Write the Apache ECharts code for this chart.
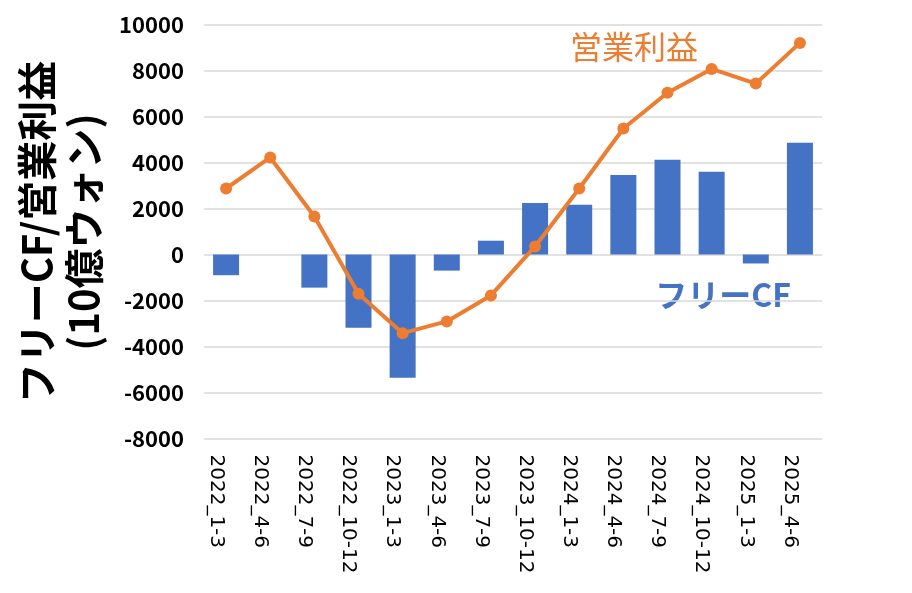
<!DOCTYPE html>
<html><head><meta charset="utf-8">
<script src="https://cdn.jsdelivr.net/npm/echarts@6/dist/echarts.min.js"></script>
<style>html,body{margin:0;padding:0;background:#fff}#c{width:912px;height:593px}</style>
</head><body><div id="c"></div>
<script>
const categories = ['2022_1-3','2022_4-6','2022_7-9','2022_10-12','2023_1-3','2023_4-6','2023_7-9','2023_10-12','2024_1-3','2024_4-6','2024_7-9','2024_10-12','2025_1-3','2025_4-6'];
const freeCF = [-900, null, -1440, -3180, -5360, -700, 600, 2240, 2160, 3460, 4120, 3600, -390, 4860];
const operatingProfit = [2870, 4220, 1650, -1710, -3420, -2910, -1780, 350, 2870, 5480, 7030, 8070, 7430, 9200];
const yTitle = 'フリーCF/営業利益\n(10億ウォン)';
const opLabel = '営業利益';
const fcfLabel = 'フリーCF';

const chart = echarts.init(document.getElementById('c'), null, {renderer:'canvas'});
const font = '"Noto Sans CJK JP", "Noto Sans", sans-serif';
chart.setOption({
  animation:false,
  grid:{left:204, right:90, top:24.5, bottom:154.5},
  xAxis:{
    type:'category', data:categories,
    axisLine:{show:false, onZero:false},
    axisTick:{show:false},
    axisLabel:{rotate:-90, margin:16, fontSize:20, color:'#000', fontFamily:'"DejaVu Sans", sans-serif',
               interval:0, verticalAlign:'top'}
  },
  yAxis:{
    type:'value', min:-8000, max:10000, interval:2000,
    axisLine:{show:false}, axisTick:{show:false},
    splitLine:{lineStyle:{color:'#D9D9D9', width:1.5}},
    axisLabel:{fontSize:22, color:'#000', fontFamily:font, fontWeight:'bold', margin:20,
               formatter:function(v){return String(v);}}
  },
  series:[
    {type:'bar', data:freeCF, barWidth:26, itemStyle:{color:'#4472C4'}},
    {type:'line', data:operatingProfit, symbol:'circle', symbolSize:12,
     lineStyle:{color:'#ED7D31', width:4}, itemStyle:{color:'#ED7D31'}}
  ],
  graphic:[
    {type:'text', x:60, y:232, rotation:Math.PI/2,
     style:{text:yTitle, fontSize:40, fontWeight:'bold', fontFamily:font, fill:'#000',
            align:'center', verticalAlign:'middle', lineHeight:47}},
    {type:'text', x:634, y:47,
     style:{text:opLabel, fontSize:32, fontFamily:font, fill:'#ED7D31', align:'center', verticalAlign:'middle'}},
    {type:'text', x:723, y:295,
     style:{text:fcfLabel, fontSize:32, fontWeight:'bold', fontFamily:font, fill:'#4472C4', align:'center', verticalAlign:'middle'}}
  ]
});
</script></body></html>
